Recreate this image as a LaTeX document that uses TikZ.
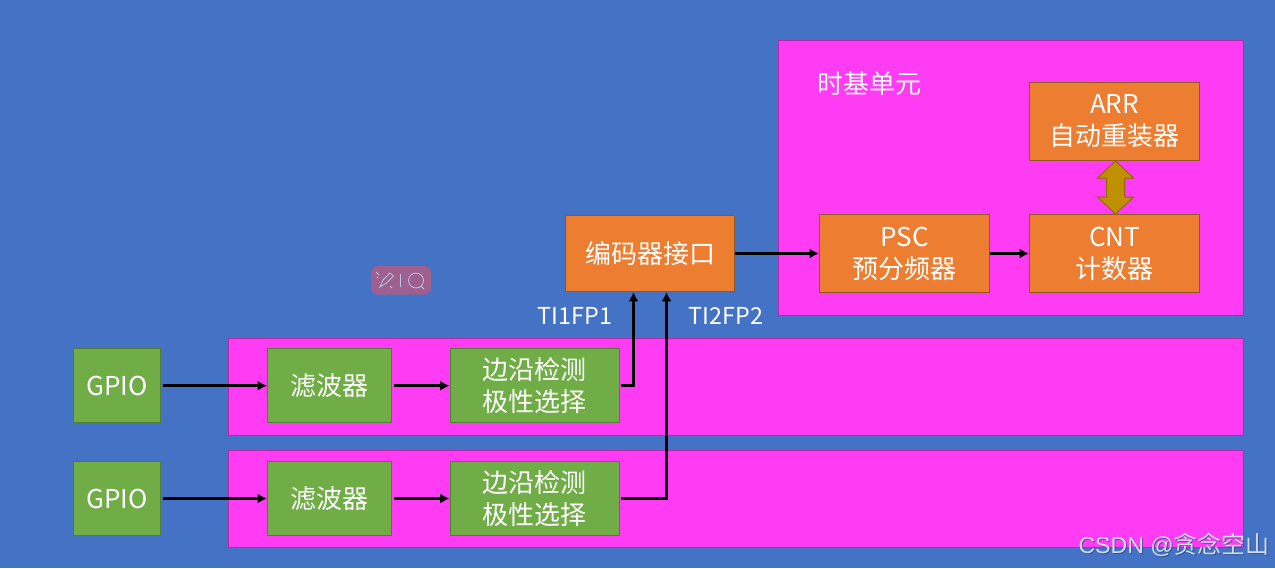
\documentclass[tikz,border=0pt]{standalone}
\usepackage{fontspec}
\setmainfont{Noto Sans CJK SC}[BoldFont={Noto Sans CJK SC}]
\newfontfamily\wmfont{Liberation Sans}
\newfontfamily\wmcjk{Noto Sans CJK SC}
\usetikzlibrary{arrows.meta,calc}
\definecolor{bgblue}{HTML}{4472C4}
\definecolor{panelpink}{HTML}{FF3BF3}
\definecolor{boxorange}{HTML}{ED7D31}
\definecolor{edgeorange}{HTML}{8F5A1C}
\definecolor{boxgreen}{HTML}{70AD47}
\definecolor{edgegreen}{HTML}{507E32}
\definecolor{goldarrow}{HTML}{BF9000}
\definecolor{edgegold}{HTML}{8F6C00}
\definecolor{toolbar}{HTML}{A0608F}
\tikzset{
  x=0.75pt,y=-0.75pt,
  lbl/.style={text=white,font=\fontsize{19.5}{24}\selectfont,align=center,inner sep=0pt},
  panel/.style={fill=panelpink,draw=panelpink!70!black,line width=0.5pt},
  orangebox/.style={lbl,fill=boxorange,draw=edgeorange,line width=0.75pt,minimum height=58.5pt},
  greenbox/.style={lbl,fill=boxgreen,draw=edgegreen,line width=0.75pt,minimum height=55.5pt},
  flow/.style={draw=black,line width=2.4pt,-{Latex[length=7pt,width=7.5pt]}},
}
\begin{document}
\begin{tikzpicture}
\path[use as bounding box,fill=bgblue] (0,0) rectangle (1275,568);
% panels
\draw[panel] (778.5,40.5) rectangle (1243,315);
\draw[panel] (228,338) rectangle (1243,435);
\draw[panel] (228,450) rectangle (1243,547);
% timebase
\node[lbl] (tb) at (869,84) {时基单元};
\node[orangebox,minimum width=127.5pt] (arr) at (1114.5,121.5) {ARR\\自动重装器};
\node[orangebox,minimum width=127.5pt] (cnt) at (1114.5,253.5) {CNT\\计数器};
\node[orangebox,minimum width=127.5pt] (psc) at (904.5,253.5) {PSC\\预分频器};
\node[orangebox,minimum width=127pt,minimum height=57.5pt] (enc) at (650,253.5) {编码器接口};
% double arrow
\coordinate (dbl) at ($(arr.south)!0.5!(cnt.north)+(1,0)$);
\draw[fill=goldarrow,draw=edgegold,line width=0.75pt]
  ($(arr.south)+(1,0)$) -- ($(dbl)+(18,-9.5)$) -- ($(dbl)+(9,-9.5)$) -- ($(dbl)+(9,9.5)$) -- ($(dbl)+(18,9.5)$)
  -- ($(cnt.north)+(1,0)$) -- ($(dbl)+(-18,9.5)$) -- ($(dbl)+(-9,9.5)$) -- ($(dbl)+(-9,-9.5)$) -- ($(dbl)+(-18,-9.5)$) -- cycle;
% inputs row 1
\node[greenbox,minimum width=65pt] (g1) at (117,385.75) {GPIO};
\node[greenbox,minimum width=93pt] (f1) at (329.5,385.75) {滤波器};
\node[greenbox,minimum width=126.75pt] (e1) at (534.5,385.75) {边沿检测\\极性选择};
% inputs row 2
\node[greenbox,minimum width=65pt] (g2) at (117,498.5) {GPIO};
\node[greenbox,minimum width=93pt] (f2) at (329.5,498.5) {滤波器};
\node[greenbox,minimum width=126.75pt] (e2) at (534.5,498.5) {边沿检测\\极性选择};
% labels
\node[lbl,font=\fontsize{17.5}{21}\selectfont] (t1) at (575,316) {TI1FP1};
\node[lbl,font=\fontsize{17.5}{21}\selectfont] (t2) at (726,316) {TI2FP2};
% connectors
\coordinate (in1) at (633.5,292);
\coordinate (in2) at (666.5,292);
\draw[flow,shorten <=1.5pt] (g1.east) -- (f1.west);
\draw[flow,shorten <=1.5pt] (f1.east) -- (e1.west);
\draw[flow,shorten <=1pt] (e1.east) -| (in1);
\draw[flow,shorten <=1.5pt] (g2.east) -- (f2.west);
\draw[flow,shorten <=1.5pt] (f2.east) -- (e2.west);
\draw[flow,shorten <=1pt] (e2.east) -| (in2);
\draw[flow] (enc.east) -- (psc.west);
\draw[flow] (psc.east) -- (cnt.west);
% floating toolbar
\fill[toolbar,rounded corners=5pt] (371,266) rectangle (431,294.5);
\begin{scope}[draw=white!60!bgblue,line width=0.6pt]
  \draw (380,287) -- (383,280) -- (390,273) -- (393.5,276) -- (386.5,283) -- cycle;
  \draw (376,272) -- (379,275) (377,277) -- (378,278) (390,286) -- (392,288);
  \draw (400.5,274) -- (400.5,287);
  \draw (416,280.5) circle[radius=7.5];
  \draw (421,286) -- (424,289);
\end{scope}
% watermark
\node[text=black!45!bgblue,opacity=0.6,font=\fontsize{18}{20}\selectfont,inner sep=0pt,anchor=east] (wmshadow) at (1271,546)
  {{\wmfont\fontsize{17.3}{20}\selectfont CSDN @}{\wmcjk 贪念空山}};
\node[text=white!75!bgblue,font=\fontsize{18}{20}\selectfont,inner sep=0pt,anchor=east] (wm) at (1270,545)
  {{\wmfont\fontsize{17.3}{20}\selectfont CSDN @}{\wmcjk 贪念空山}};
\end{tikzpicture}
\end{document}
